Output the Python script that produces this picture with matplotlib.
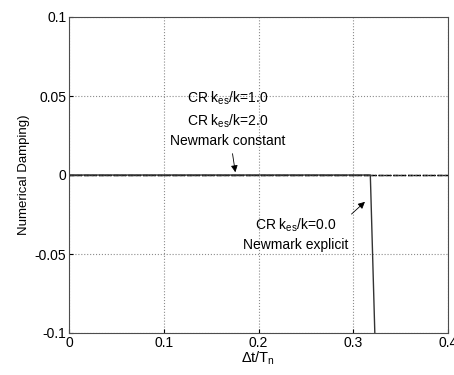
import matplotlib
matplotlib.use('Agg')
import matplotlib.pyplot as plt
import numpy as np

plt.rcParams['font.family'] = ['Liberation Sans', 'DejaVu Sans']
plt.rcParams['mathtext.fontset'] = 'custom'
plt.rcParams['mathtext.rm'] = 'Liberation Sans'
plt.rcParams['mathtext.it'] = 'Liberation Sans'

# dt/Tn and numerical damping
dt = [0.0, 0.05, 0.1, 0.15, 0.2, 0.25, 0.3, 0.35, 0.4]
cr_k1 = [0, 0, 0, 0, 0, 0, 0, 0, 0]
cr_k2 = [0, 0, 0, 0, 0, 0, 0, 0, 0]
nm_const = [0, 0, 0, 0, 0, 0, 0, 0, 0]
dt_expl = [0.0, 0.05, 0.1, 0.15, 0.2, 0.25, 0.3, 0.318, 0.3185, 0.323]
nm_expl = [0, 0, 0, 0, 0, 0, 0, 0, -0.01, -0.105]

fig = plt.figure(figsize=(4.54, 3.75), dpi=100)
ax = fig.add_axes([69/454, 42/375, 379/454, 316/375])

ax.plot(dt, cr_k1, color='black', lw=1.0, ls='--')
ax.plot(dt, cr_k2, color='0.3', lw=1.0, ls='-.')
ax.plot(dt, nm_const, color='black', lw=0.8, ls=':')
ax.plot(dt_expl, nm_expl, color='0.2', lw=1.0)

ax.set_xlim(0, 0.4)
ax.set_ylim(-0.1, 0.1)
ax.set_xticks([0, 0.1, 0.2, 0.3, 0.4])
ax.set_xticklabels(['0', '0.1', '0.2', '0.3', '0.4'])
ax.set_yticks([-0.1, -0.05, 0, 0.05, 0.1])
ax.set_yticklabels(['-0.1', '-0.05', '0', '0.05', '0.1'])
ax.grid(True, ls=':', color='0.55', lw=0.8)
ax.tick_params(direction='in', labelsize=10, length=3, pad=2)
for s in ax.spines.values():
    s.set_color('0.3')

ax.set_xlabel(r'$\Delta$t/T$_{\rm n}$', fontsize=10.5, labelpad=0)
ax.set_ylabel('Numerical Damping)', fontsize=9.5, labelpad=3)

ax.annotate('CR k$_{\\rm es}$/k=1.0\nCR k$_{\\rm es}$/k=2.0\nNewmark constant',
            xy=(0.176, 0.0), xytext=(0.167, 0.017), ha='center', va='bottom',
            fontsize=10, linespacing=1.4,
            arrowprops=dict(arrowstyle='-|>', color='black', lw=0.6,
                            mutation_scale=10))
ax.annotate('CR k$_{\\rm es}$/k=0.0\nNewmark explicit',
            xy=(0.3145, -0.0158), xytext=(0.2396, -0.049), ha='center', va='bottom',
            fontsize=10, linespacing=1.4,
            arrowprops=dict(arrowstyle='-|>', color='black', lw=0.6,
                            mutation_scale=10, shrinkA=0, relpos=(1.0, 1.0)))

fig.savefig('out.png', dpi=100)
